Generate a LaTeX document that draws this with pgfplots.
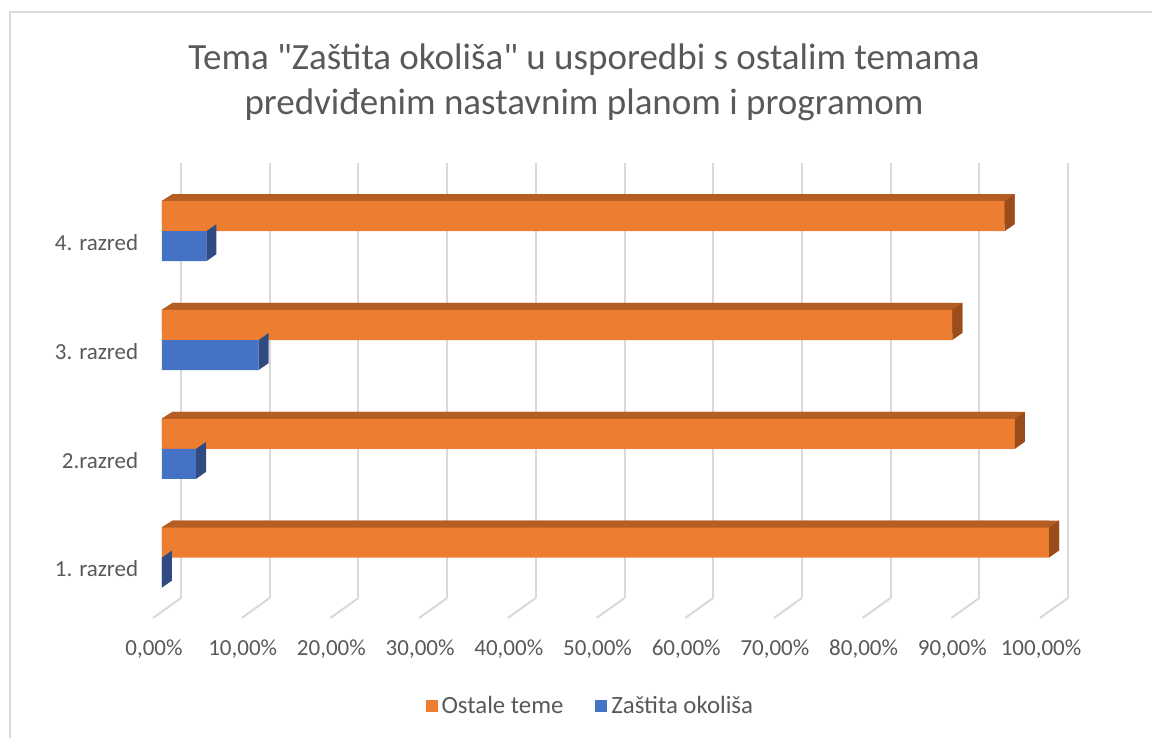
\documentclass[border=0pt]{standalone}
\usepackage{pgfplots}
\pgfplotsset{compat=1.18}
\usepackage{pgfplotstable}
\usepackage{fontspec}
\setmainfont{Carlito}
\newfontfamily\titlefont{Carlito}
\definecolor{orangeF}{HTML}{ED7D31}
\definecolor{orangeT}{HTML}{B55E23}
\definecolor{orangeS}{HTML}{9A4D1B}
\definecolor{blueF}{HTML}{4472C4}
\definecolor{blueT}{HTML}{3A5FA3}
\definecolor{blueS}{HTML}{2F4B82}
\definecolor{gridc}{HTML}{D9D9D9}
\definecolor{txt}{HTML}{595959}
% side face of a bar (front right end at the mark), upper bar and lower bar
\pgfdeclareplotmark{sideUp}{%
  \pgfpathmoveto{\pgfpoint{0pt}{0pt}}%
  \pgfpathlineto{\pgfpoint{5pt}{3.5pt}}%
  \pgfpathlineto{\pgfpoint{5pt}{18.5pt}}%
  \pgfpathlineto{\pgfpoint{0pt}{15pt}}%
  \pgfpathclose\pgfusepathqfill}
\pgfdeclareplotmark{sideDown}{%
  \pgfpathmoveto{\pgfpoint{0pt}{-15pt}}%
  \pgfpathlineto{\pgfpoint{5pt}{-11.5pt}}%
  \pgfpathlineto{\pgfpoint{5pt}{3.5pt}}%
  \pgfpathlineto{\pgfpoint{0pt}{0pt}}%
  \pgfpathclose\pgfusepathqfill}
% white corner that trims the top face at the bar's left end
\pgfdeclareplotmark{trimUp}{%
  \pgfpathmoveto{\pgfpoint{-0.5pt}{15pt}}%
  \pgfpathlineto{\pgfpoint{-0.5pt}{19pt}}%
  \pgfpathlineto{\pgfpoint{5pt}{19pt}}%
  \pgfpathlineto{\pgfpoint{5pt}{18.5pt}}%
  \pgfpathclose\pgfusepathqfill}
\pgfplotstableread{
y o z x0
1 100 0 0
2 96.15 3.85 0
3 89.1 10.9 0
4 95 5 0
}\data
\begin{document}
\begin{tikzpicture}
\path[use as bounding box] (-81pt,-63pt) rectangle (495pt,306pt);
\draw[gridc, line width=1pt] (-76pt,-80pt) -- (-76pt,300pt) -- (520pt,300pt);
\begin{axis}[
  at={(0,0)}, anchor=south west,
  scale only axis, width=443.5pt, height=217.6pt,
  xmin=0, xmax=100, ymin=0.5, ymax=4.5,
  bar width=15pt,
  axis line style={draw=none},
  tick style={draw=none},
  xmajorgrids,
  major grid style={gridc, line width=1pt, xshift=9.5pt, yshift=6.8pt},
  xtick={0,10,...,100},
  xticklabels={{0,00\%},{10,00\%},{20,00\%},{30,00\%},{40,00\%},{50,00\%},{60,00\%},{70,00\%},{80,00\%},{90,00\%},{100,00\%}},
  ytick={1,2,3,4},
  yticklabels={1. razred,2.razred,3. razred,4. razred},
  tick label style={font=\fontsize{11.5}{13}\selectfont, text=txt, inner sep=0pt},
  xticklabel style={anchor=center, xshift=-4pt, yshift=-18.5pt},
  yticklabel style={anchor=east, xshift=-11.7pt, yshift=-5.75pt},
  clip=false,
  legend style={at={(0.484,-0.216)}, anchor=center, draw=none, legend columns=2,
    font=\fontsize{12.4}{14}\selectfont, text=txt,
    /tikz/every even column/.append style={column sep=14pt}},
  legend image code/.code={\fill[#1] (0pt,-3pt) rectangle (6pt,3pt);},
]
\pgfplotsinvokeforeach{0,10,...,100}{
  \draw[gridc, line width=1pt] (axis cs:#1,0.5) ++(9.5pt,7pt) -- ++(-14pt,-10pt);
}
% top faces
\addplot[forget plot, xbar, draw=none, fill=orangeT, bar shift=7.5pt, xshift=5pt, yshift=3.5pt] table[x=o,y=y]{\data};
\addplot[forget plot, xbar, draw=none, fill=orangeT, bar shift=7.5pt, yshift=3.5pt] table[x=o,y=y]{\data};
\addplot[forget plot, only marks, mark=trimUp, white] table[x=x0,y=y]{\data};
% side faces
\addplot[forget plot, only marks, mark=sideUp, orangeS] table[x=o,y=y]{\data};
\addplot[forget plot, only marks, mark=sideDown, blueS] table[x=z,y=y]{\data};
% front faces
\addplot[xbar, draw=none, fill=orangeF, bar shift=7.5pt] table[x=o,y=y]{\data};
\addlegendentry{Ostale teme}
\addplot[xbar, draw=none, fill=blueF, bar shift=-7.5pt] table[x=z,y=y]{\data};
\addlegendentry{Zaštita okoliša}
\end{axis}
\node[text=txt, align=center, font=\titlefont\fontsize{18.5}{22.5}\selectfont] at (211pt,265pt)
  {Tema "Zaštita okoliša" u usporedbi s ostalim temama\\predviđenim nastavnim planom i programom};
\end{tikzpicture}
\end{document}
